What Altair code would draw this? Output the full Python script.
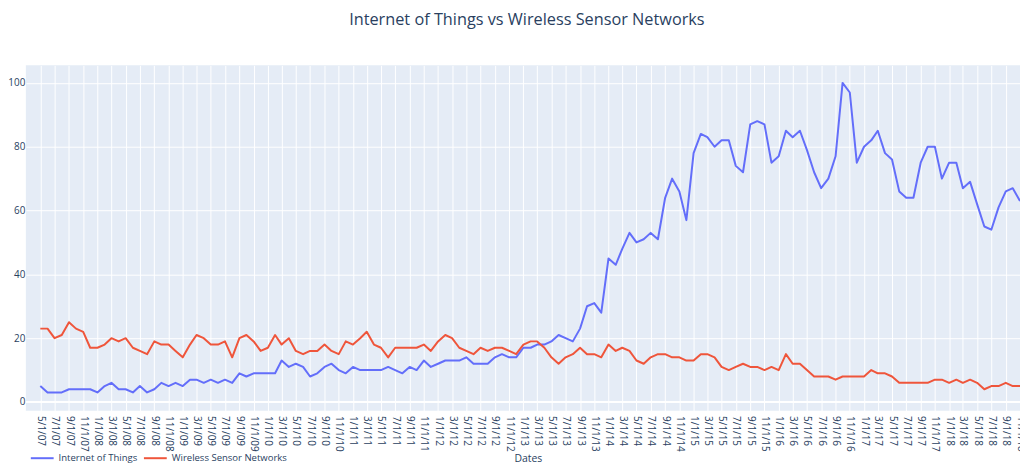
import altair as alt
import pandas as pd

# ---- data (monthly, starting May 2007) ----
start_month = "2007-05-01"
series_names = ["Internet of Things", "Wireless Sensor Networks"]
line_colors = ["#636EFA", "#EF553B"]

iot = [5, 3, 3, 3, 4, 4, 4, 4, 3, 5, 6, 4, 4, 3, 5, 3, 4, 6, 5, 6,
       5, 7, 7, 6, 7, 6, 7, 6, 9, 8, 9, 9, 9, 9,
       13, 11, 12, 11, 8, 9, 11, 12, 10, 9, 11, 10, 10, 10, 10, 11, 10, 9, 11, 10,
       13, 11, 12, 13, 13, 13, 14, 12, 12, 12, 14, 15, 14, 14,
       17, 17, 18, 18, 19, 21, 20, 19, 23, 30, 31, 28, 45, 43, 48, 53, 50, 51, 53, 51,
       64, 70, 66, 57, 78, 84, 83, 80, 82, 82, 74, 72, 87, 88, 87, 75,
       77, 85, 83, 85, 79, 72, 67, 70, 77, 100, 97, 75, 80, 82, 85, 78, 76, 66, 64, 64,
       75, 80, 80, 70, 75, 75, 67, 69, 62, 55, 54, 61, 66, 67, 63]

wsn = [23, 23, 20, 21, 25, 23, 22, 17, 17, 18, 20, 19, 20, 17, 16, 15, 19, 18, 18, 16,
       14, 18, 21, 20, 18, 18, 19, 14, 20, 21, 19, 16, 17, 21,
       18, 20, 16, 15, 16, 16, 18, 16, 15, 19, 18, 20, 22, 18, 17, 14, 17, 17, 17, 17,
       18, 16, 19, 21, 20, 17, 16, 15, 17, 16, 17, 17, 16, 15,
       18, 19, 19, 17, 14, 12, 14, 15, 17, 15, 15, 14, 18, 16, 17, 16, 13, 12, 14, 15,
       15, 14, 14, 13, 13, 15, 15, 14, 11, 10, 11, 12, 11, 11, 10, 11,
       10, 15, 12, 12, 10, 8, 8, 8, 7, 8, 8, 8, 8, 10, 9, 9, 8, 6, 6, 6,
       6, 6, 7, 7, 6, 7, 6, 7, 6, 4, 5, 5, 6, 5, 5]

y_ticks = [0, 20, 40, 60, 80, 100]
x_tick_dates = pd.date_range(start_month, "2018-11-01", freq="2MS")

dates = list(pd.date_range(start_month, periods=len(iot), freq="MS").strftime("%Y-%m-%dT00:00:00"))
df = pd.DataFrame({
    "Dates": dates + dates,
    "value": iot + wsn,
    "series": [series_names[0]] * len(iot) + [series_names[1]] * len(wsn),
})

x_values = [alt.DateTime(year=int(d.year), month=int(d.month), date=int(d.day)) for d in x_tick_dates]
x_domain = [alt.DateTime(year=2007, month=2, date=28), alt.DateTime(year=2018, month=11, date=1)]

FONT = "Open Sans"
TXT = "#2a3f5f"

zero_line = alt.Chart(pd.DataFrame({"zero": [0]})).mark_rule(
    color="white", strokeWidth=2
).encode(y=alt.Y("zero:Q"))

lines = alt.Chart(df).mark_line(strokeWidth=2, strokeJoin="round").encode(
    x=alt.X(
        "Dates:T",
        scale=alt.Scale(domain=x_domain),
        axis=alt.Axis(
            values=x_values, format="%-m/%-d/%y", labelAngle=90, labelAlign="left",
            labelBaseline="middle", labelOverlap=False, labelBound=False, labelFlush=False,
            labelFont=FONT, labelFontSize=10, labelColor=TXT, labelPadding=5,
            ticks=False, domain=False, grid=True, gridColor="white", gridWidth=1,
            title="Dates", titleFont=FONT, titleFontSize=10.5, titleFontWeight="normal",
            titleColor=TXT, titleX=506, titleY=48, titleAlign="center", titleBaseline="middle",
        ),
    ),
    y=alt.Y(
        "value:Q",
        scale=alt.Scale(domain=[-2.7, 105.5], nice=False, zero=False),
        axis=alt.Axis(
            values=y_ticks, title=None, labelFont=FONT, labelFontSize=10, labelColor=TXT,
            labelPadding=1, ticks=False, domain=False, grid=True, gridColor="white", gridWidth=1,
        ),
    ),
    color=alt.Color(
        "series:N",
        scale=alt.Scale(domain=series_names, range=line_colors),
        legend=alt.Legend(
            orient="none", legendX=4, legendY=383, direction="horizontal", title=None,
            symbolType="stroke", symbolStrokeWidth=2, symbolSize=529,
            labelFont=FONT, labelFontSize=9.6, labelColor=TXT, labelOffset=4,
            columnPadding=2, padding=0,
        ),
    ),
)

chart = alt.layer(zero_line, lines).properties(
    width=1002,
    height=348,
    background="white",
    autosize=alt.AutoSizeParams(type="none"),
    padding={"left": 18, "top": 56, "right": 0, "bottom": 54},
    title=alt.TitleParams(
        "Internet of Things vs Wireless Sensor Networks",
        font=FONT, fontSize=16.4, fontWeight="normal", color=TXT,
        anchor="middle", frame="group", offset=24, baseline="alphabetic", dx=4,
    ),
).configure_view(fill="#E5ECF6", strokeWidth=0)

chart.save("out.html", embed_options={"renderer": "svg", "actions": False})
